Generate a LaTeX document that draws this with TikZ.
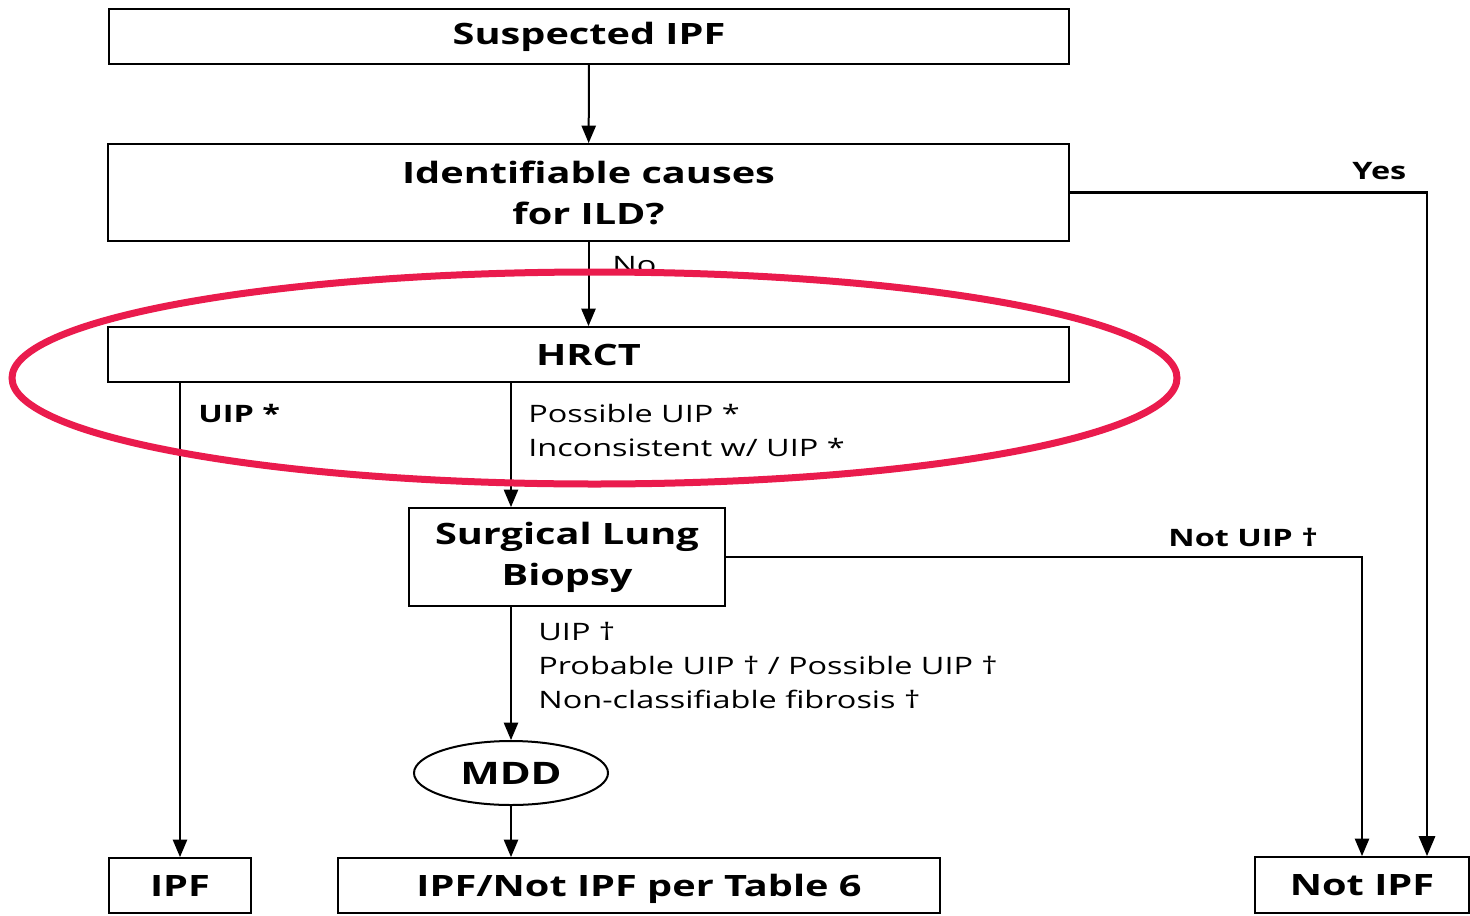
\documentclass[tikz,border=0pt]{standalone}
\usepackage{fontspec}
\setmainfont{Open Sans}[FakeStretch=1.35]
\usepackage{tikz}
\usetikzlibrary{
  shapes.geometric,
  calc,
  arrows
}
\definecolor{ringred}{RGB}{234,27,77}

\begin{document}
\begin{tikzpicture}[x=0.5pt, y=-0.5pt,
  box/.style={draw, line width=1pt, inner sep=0pt, align=center,
    font=\fontsize{14.7}{20.5}\selectfont\bfseries},
  lbl/.style={anchor=north west, inner sep=0pt, align=left,
    font=\fontsize{12}{17}\selectfont},
  blbl/.style={lbl, font=\fontsize{12}{17}\selectfont\bfseries},
  flow/.style={-triangle 45, line width=1pt}
]
\useasboundingbox (0,0) rectangle (1470,915);
\node[box, minimum width=480pt, minimum height=27.5pt] (suspect) at (589,36.5) {Suspected IPF};
\node[box, minimum width=480.5pt, minimum height=48.5pt] (causes) at (588.5,192.5) {Identifiable causes\\for ILD?};
\node[box, minimum width=480.5pt, minimum height=27.5pt] (hrct) at (588.5,354.5) {HRCT};
\node[box, minimum width=158pt, minimum height=49pt] (slb) at (567,557) {Surgical Lung\\Biopsy};
\node[box, ellipse, minimum width=97pt, minimum height=32pt, font=\fontsize{15.5}{20}\selectfont\bfseries] (mdd) at (511,773) {MDD};
\node[box, minimum width=71pt, minimum height=27.5pt] (ipf) at (180,885.5) {IPF};
\node[box, minimum width=301pt, minimum height=27.5pt, text depth=0pt] (table) at (639,885.5) {IPF/Not IPF per Table 6};
\node[box, minimum width=107pt, minimum height=28pt] (notipf) at (1362,885) {Not IPF};

% connectors
\draw[flow] (suspect) -- (causes);
\draw[flow] (causes) -- (hrct);
\draw[flow, line width=1.3pt] (causes.east) -| ($(notipf.north)+(65,0)$);
\draw[flow] (ipf.north |- hrct.south) -- (ipf.north);
\draw[flow] (mdd.north |- hrct.south) -- (mdd.north |- slb.north);
\draw[flow] (slb.east) -| (notipf.north);
\draw[flow] (mdd.north |- slb.south) -- (mdd.north);
\draw[flow] (mdd.south) -- (mdd.south |- table.north);

% labels
\node[lbl] (no) at (612,256) {No};
\node[blbl] (yes) at (1352,162) {Yes};
\node[blbl] (uip) at (198,404) {UIP *};
\node[lbl] (possible) at (528,404) {Possible UIP *\\Inconsistent w/ UIP *};
\node[blbl] (notuip) at (1168,528) {Not UIP †};
\node[lbl] (biopsy) at (538,622) {UIP †\\Probable UIP † / Possible UIP †\\Non-classifiable fibrosis †};

\draw[ringred, line width=3.5pt] (594.5,378) ellipse[x radius=291.25pt, y radius=53pt];
\end{tikzpicture}
\end{document}
